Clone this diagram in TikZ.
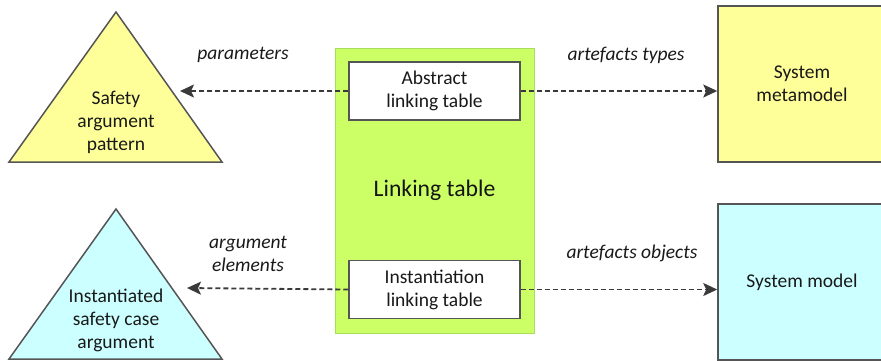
\documentclass[tikz,border=0pt]{standalone}
\usepackage{fontspec}
\setmainfont{Carlito}
\usetikzlibrary{arrows.meta}
\definecolor{yfill}{HTML}{FFFF99}
\definecolor{cfill}{HTML}{CCFFFF}
\definecolor{gfill}{HTML}{CCFF66}
\definecolor{gline}{HTML}{A6E05A}
\definecolor{sline}{HTML}{555555}
\definecolor{aline}{HTML}{3A3A3A}
\begin{document}
\begin{tikzpicture}[x=1pt,y=-1pt,
  txt/.style={font=\fontsize{19.5}{23}\selectfont, align=center, text=black!90},
  bigtxt/.style={font=\fontsize{23.7}{28}\selectfont, align=center, text=black!92},
  lbl/.style={font=\fontsize{19.5}{23}\selectfont\itshape, align=center, text=black!90},
  shapeline/.style={draw=sline, line width=1.5pt},
  tablebox/.style={shapeline, fill=white, minimum width=171pt, minimum height=58pt, inner sep=0pt, txt},
  modelbox/.style={shapeline, minimum width=168pt, minimum height=156pt, inner sep=0pt, txt},
  link/.style={draw=aline, line width=1.8pt, dash pattern=on 5pt off 3pt, -{Stealth[length=14pt,width=13pt,inset=3pt]}}
]
\useasboundingbox (0,0) rectangle (881,360);
\begin{scope}
\clip (0,0) rectangle (881,360);
% triangles
\filldraw[shapeline, fill=yfill] (9,162) -- (116,12) -- (222,162) -- cycle;
\filldraw[shapeline, fill=cfill] (9,359) -- (116,209) -- (222,359) -- cycle;
\node[txt] (sap) at (116,122) {Safety\\argument\\pattern};
\node[txt] (isc) at (116,320) {Instantiated\\safety case\\argument};
\coordinate (sapR) at (180,91);
\coordinate (iscR) at (187,288);
% linking table
\node[draw=gline, line width=1pt, fill=gfill, minimum width=199pt, minimum height=285pt, inner sep=0pt] (lt) at (434.5,190.5) {};
\node[bigtxt] (ltlabel) at (434.5,190) {Linking table};
\node[tablebox] (alt) at (434.5,91) {Abstract\\linking table};
\node[tablebox] (ilt) at (434.5,289.5) {Instantiation\\linking table};
% models
\node[modelbox, fill=yfill] (smm) at (802,84) {System\\metamodel};
\node[modelbox, fill=cfill] (sm) at (802,282) {System model};
% connectors
\draw[link] (alt.west) -- (sapR);
\draw[link] (alt.east) -- (smm.west |- alt.east);
\draw[link] (ilt.west) -- (iscR);
\draw[link] (ilt.east) -- (sm.west |- ilt.east);
% labels
\node[lbl] (l1) at (243,55) {parameters};
\node[lbl] (l2) at (626,55) {artefacts types};
\node[lbl] (l3) at (248,254) {argument\\elements};
\node[lbl] (l4) at (632,253) {artefacts objects};
\end{scope}
\end{tikzpicture}
\end{document}
